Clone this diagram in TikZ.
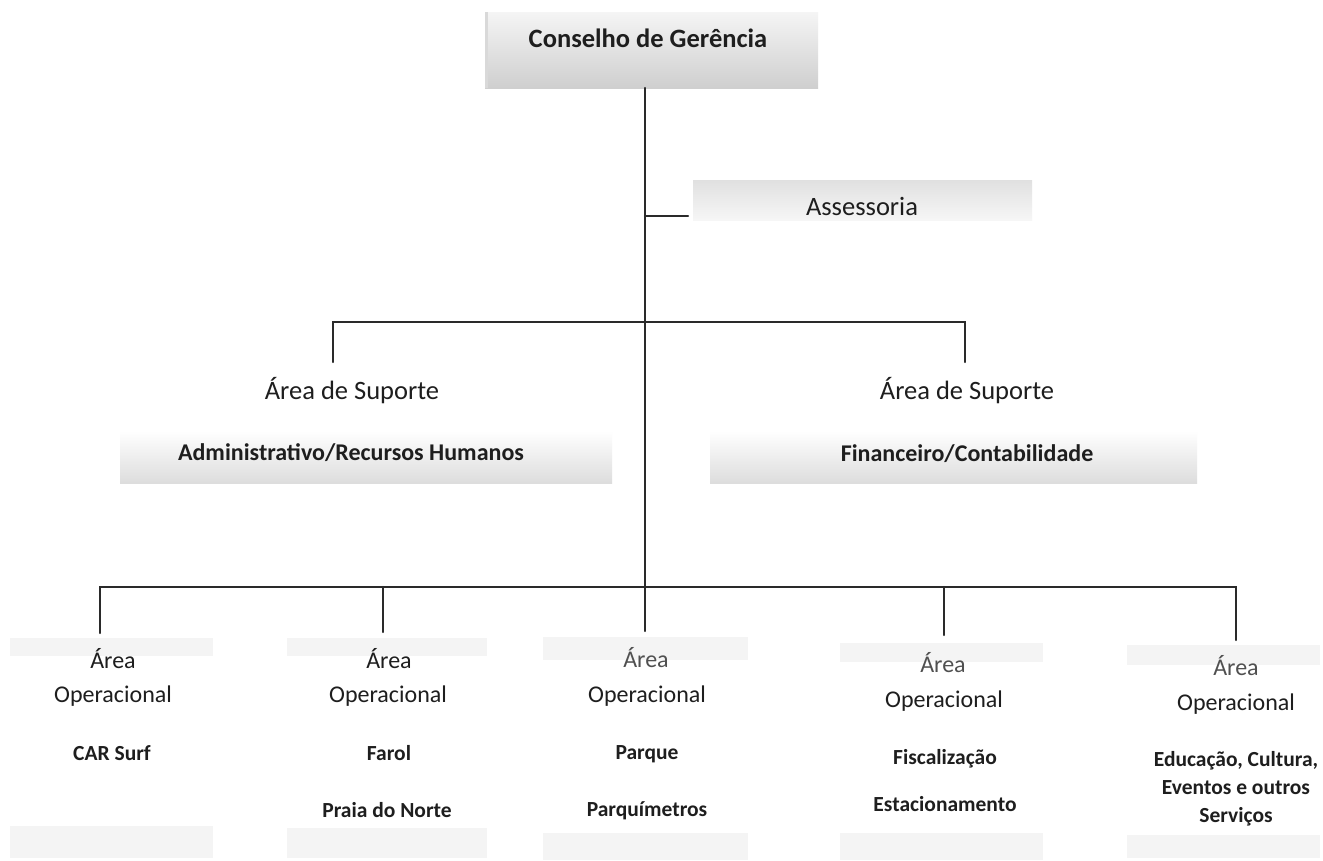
\documentclass[tikz,border=0pt]{standalone}
\usepackage{fontspec}
\setmainfont{Carlito}
\definecolor{ink}{HTML}{1E1E1E}
\definecolor{linec}{HTML}{2A2A2A}
\definecolor{fadeink}{HTML}{505050}
\tikzset{
  conn/.style={draw=linec, line width=2.2pt, line cap=round, line join=miter},
  strip/.style={fill=gray!9, draw=none},
  lbl/.style={anchor=base, inner sep=0pt, text=ink, align=center},
  fBig/.style={font=\fontsize{26.5}{31}\selectfont},
  fBigB/.style={font=\fontsize{26.5}{31}\selectfont\bfseries},
  fSupB/.style={font=\fontsize{24}{29}\selectfont\bfseries},
  fOp/.style={font=\fontsize{24}{29}\selectfont},
  fOpB/.style={font=\fontsize{21.5}{28}\selectfont\bfseries},
}
\begin{document}
\begin{tikzpicture}[x=1pt,y=-1pt]
\useasboundingbox (0,0) rectangle (1323,860);
\fill[white] (0,0) rectangle (1323,860);

% boxes
\node[draw=none, minimum width=333pt, minimum height=76pt, inner sep=0pt, top color=gray!8, bottom color=gray!38] (cgbox) at (651.5,50) {};
\fill[gray!30] (485,12) rectangle (488,88);
\node[draw=none, minimum width=339pt, minimum height=40pt, inner sep=0pt, top color=gray!24, bottom color=gray!7] (asbox) at (862.5,200) {};
\node[draw=none, minimum width=492pt, minimum height=52pt, inner sep=0pt, top color=white, bottom color=gray!27] (admbox) at (366,457) {};
\node[draw=none, minimum width=487pt, minimum height=52pt, inner sep=0pt, top color=white, bottom color=gray!27] (finbox) at (953.5,457) {};

% faint strips of the operational boxes
\fill[strip] (10,638) rectangle (213,656);
\fill[strip] (10,826) rectangle (213,858);
\fill[strip] (287,638) rectangle (487,656);
\fill[strip] (287,828) rectangle (487,858);
\fill[strip] (543,637) rectangle (748,660);
\fill[strip] (543,833) rectangle (748,860);
\fill[strip] (840,643) rectangle (1043,662);
\fill[strip] (840,833) rectangle (1043,860);
\fill[strip] (1127,645) rectangle (1320,665);
\fill[strip] (1127,835) rectangle (1320,858);

% coordinates
\coordinate (mtop) at (645,88);
\coordinate (ass) at (645,216);
\coordinate (assE) at (688,216);
\coordinate (supL) at (333,322);
\coordinate (supR) at (965,322);
\coordinate (supLd) at (333,362);
\coordinate (supRd) at (965,362);
\coordinate (busL) at (100,587);
\coordinate (bus2) at (383,587);
\coordinate (bus4) at (944,587);
\coordinate (busR) at (1236,587);
\coordinate (d1) at (100,633);
\coordinate (d2) at (383,632);
\coordinate (d3) at (645,631);
\coordinate (d4) at (944,635);
\coordinate (d5) at (1236,640);

% connectors
\draw[conn] (mtop) -- (d3);
\draw[conn] (ass) -- (assE);
\draw[conn] (supLd) -- (supL) -- (supR) -- (supRd);
\draw[conn] (d1) -- (busL) -- (busR) -- (d5);
\draw[conn] (bus2) -- (d2);
\draw[conn] (bus4) -- (d4);

% texts
\node[lbl, fBigB] (cg) at (648,47) {Conselho de Gerência};
\node[lbl, fBig] (as) at (862,215) {Assessoria};
\node[lbl, fBig] (suL) at (352,399) {Área de Suporte};
\node[lbl, fBig] (suR) at (967,399) {Área de Suporte};
\node[lbl, fSupB] (adm) at (351,460) {Administrativo/Recursos Humanos};
\node[lbl, fSupB] (fin) at (967,461) {Financeiro/Contabilidade};

% column 1
\node[lbl, fOp] (a1) at (113,668) {Área};
\node[lbl, fOp] (o1) at (113,702) {Operacional};
\node[lbl, fOpB] (b1) at (112,760) {CAR Surf};
% column 2
\node[lbl, fOp] (a2) at (389,668) {Área};
\node[lbl, fOp] (o2) at (388,702) {Operacional};
\node[lbl, fOpB] (b2) at (389,760) {Farol};
\node[lbl, fOpB] (c2) at (387,817) {Praia do Norte};
% column 3
\node[lbl, fOp, text=fadeink] (a3) at (646,667) {Área};
\node[lbl, fOp] (o3) at (647,702) {Operacional};
\node[lbl, fOpB] (b3) at (647,759) {Parque};
\node[lbl, fOpB] (c3) at (647,816) {Parquímetros};
% column 4
\node[lbl, fOp, text=fadeink] (a4) at (943,672) {Área};
\node[lbl, fOp] (o4) at (944,707) {Operacional};
\node[lbl, fOpB] (b4) at (945,764) {Fiscalização};
\node[lbl, fOpB] (c4) at (945,811) {Estacionamento};
% column 5
\node[lbl, fOp, text=fadeink] (a5) at (1236,675) {Área};
\node[lbl, fOp] (o5) at (1236,710) {Operacional};
\node[lbl, fOpB] (b5) at (1236,766) {Educação, Cultura,};
\node[lbl, fOpB] (c5) at (1236,794) {Eventos e outros};
\node[lbl, fOpB] (e5) at (1236,822) {Serviços};
\end{tikzpicture}
\end{document}
